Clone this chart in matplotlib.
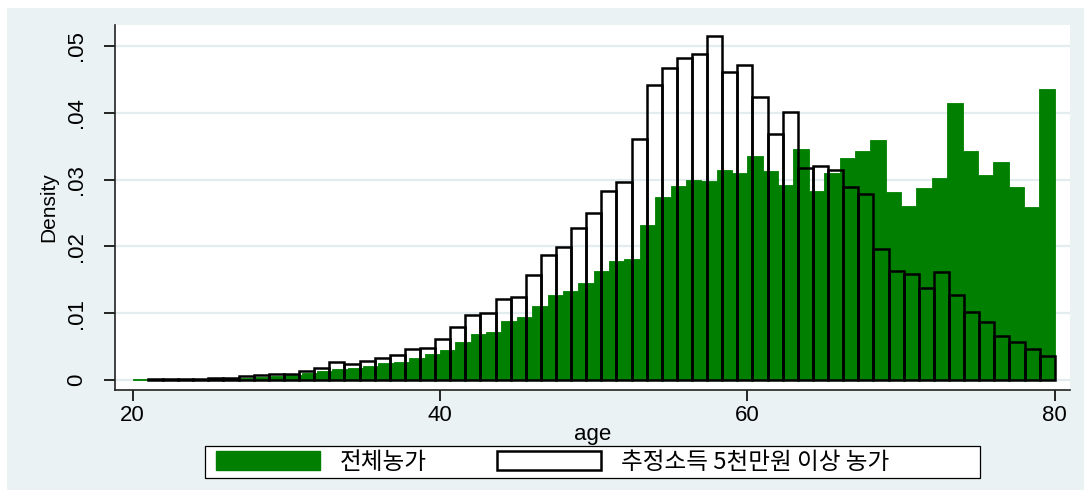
import numpy as np
import matplotlib.pyplot as plt
from matplotlib.patches import Patch, Rectangle
from matplotlib.font_manager import FontProperties

plt.rcParams['font.family'] = ['Liberation Sans', 'DejaVu Sans']

# All farm households: density per 1-year bin, 20..80
all_start, all_end = 20, 80
all_density = [
    0.0002, 0.0001, 0.0001, 0.0001, 0.00015, 0.0002, 0.00025, 0.0003, 0.0005, 0.0006,
    0.0008, 0.0011, 0.00135, 0.00165, 0.00175, 0.00215, 0.0025, 0.0027, 0.00335, 0.0039,
    0.0045, 0.00574, 0.00689, 0.00724, 0.00883, 0.00948, 0.01113, 0.01272, 0.01327, 0.01452,
    0.01637, 0.01776, 0.01806, 0.02326, 0.02735, 0.02909, 0.02989, 0.02984, 0.03144, 0.03104,
    0.03348, 0.03124, 0.02914, 0.03453, 0.02829, 0.03093, 0.03328, 0.03423, 0.03598, 0.02819,
    0.02605, 0.02869, 0.03029, 0.04152, 0.03428, 0.03074, 0.03269, 0.02884, 0.02594, 0.04356,
]

# Households with estimated income >= 50M won: 60 bins over 21..80
high_start, high_end = 21, 80
high_density = [
    0.0001, 0.0001, 0.0001, 0.0002, 0.0003, 0.0003, 0.0006, 0.0008, 0.00095, 0.00095,
    0.0013, 0.00172, 0.00262, 0.00235, 0.0029, 0.0033, 0.0038, 0.00462, 0.0048, 0.0061,
    0.00798, 0.00978, 0.01008, 0.01208, 0.01248, 0.01567, 0.01866, 0.01996, 0.02275, 0.02495,
    0.02824, 0.02964, 0.03603, 0.04411, 0.04676, 0.04815, 0.0488, 0.0515, 0.04606, 0.04716,
    0.04242, 0.03678, 0.04007, 0.03169, 0.03204, 0.03144, 0.02894, 0.02784, 0.01966, 0.01637,
    0.01587, 0.01382, 0.01612, 0.01272, 0.01023, 0.00868, 0.00654, 0.00564, 0.00459, 0.00359,
]

xticks = [20, 40, 60, 80]
yticks = [0, 0.01, 0.02, 0.03, 0.04, 0.05]
ytick_labels = ["0", ".01", ".02", ".03", ".04", ".05"]
legend_labels = ["전체농가", "추정소득 5천만원 이상 농가"]

BG = "#EAF2F3"
GREEN = "#007F00"
W, H = 1091, 494

fig = plt.figure(figsize=(W / 100, H / 100), dpi=100)
fig.patch.set_facecolor("white")
fig.patches.append(Rectangle((7 / W, 4 / H), (1084 - 7) / W, (486 - 4) / H,
                             transform=fig.transFigure, facecolor=BG,
                             edgecolor="none", zorder=-10))

ax = fig.add_axes([115 / W, 1 - 390 / H, (1070 - 115) / W, (390 - 25) / H])
ax.set_facecolor("white")

all_edges = np.linspace(all_start, all_end, len(all_density) + 1)
high_edges = np.linspace(high_start, high_end, len(high_density) + 1)

ax.bar(all_edges[:-1], all_density, width=np.diff(all_edges), align="edge",
       color=GREEN, edgecolor=GREEN, linewidth=0.6, zorder=2)
ax.bar(high_edges[:-1], high_density, width=np.diff(high_edges), align="edge",
       fill=False, edgecolor="black", linewidth=1.8, joinstyle="miter", zorder=3)

ax.set_xlim(18.86, 80.99)
ax.set_ylim(-0.0015, 0.05314)

# Gridlines
for y in yticks:
    ax.axhline(y, color="#E3EDEF", linewidth=1.6, zorder=1)

ax.set_xticks(xticks)
ax.set_yticks(yticks)
ax.set_yticklabels(ytick_labels, rotation=90, va="center")
ax.tick_params(axis="x", direction="out", length=8, width=1.2, labelsize=16, pad=3)
ax.tick_params(axis="y", direction="out", length=8, width=1.2, labelsize=16, pad=12)

for side in ["top", "right"]:
    ax.spines[side].set_visible(False)
for side in ["left", "bottom"]:
    ax.spines[side].set_linewidth(1.2)
    ax.spines[side].set_color("#222222")

ax.set_xlabel("age", fontsize=16, labelpad=-2)
ax.set_ylabel("Density", fontsize=15, labelpad=6)

# Legend box drawn separately so it can be wider than its entries
fig.patches.append(Rectangle((205 / W, 1 - 478 / H), 775 / W, 32 / H,
                             transform=fig.transFigure, facecolor="white",
                             edgecolor="black", linewidth=0.9, zorder=2))
handles = [Patch(facecolor=GREEN, edgecolor=GREEN),
           Patch(facecolor="white", edgecolor="black", linewidth=1.8)]
leg = fig.legend(handles, legend_labels, ncol=2, loc="center left",
                 bbox_to_anchor=(216 / W, 1 - 462 / H),
                 prop=FontProperties(family=["Noto Sans CJK KR", "DejaVu Sans"], size=17),
                 frameon=False, handlelength=4.4, handleheight=0.85,
                 handletextpad=0.85, columnspacing=2.97, borderpad=0,
                 borderaxespad=0)
leg.set_zorder(3)

fig.savefig("out.png", dpi=100, facecolor=fig.get_facecolor())
